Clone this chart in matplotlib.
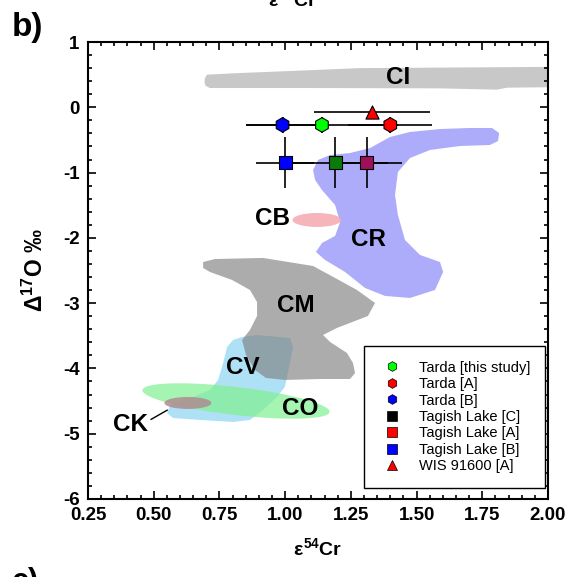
import numpy as np
import matplotlib
matplotlib.use('Agg')
import matplotlib.pyplot as plt
from matplotlib.patches import Polygon, Ellipse
from matplotlib.lines import Line2D
from matplotlib.ticker import MultipleLocator

plt.rcParams['font.family'] = ['Liberation Sans', 'DejaVu Sans']
plt.rcParams['axes.unicode_minus'] = False
plt.rcParams['mathtext.fontset'] = 'custom'
plt.rcParams['mathtext.rm'] = 'Liberation Sans:bold'
plt.rcParams['mathtext.it'] = 'Liberation Sans:bold'
plt.rcParams['mathtext.bf'] = 'Liberation Sans:bold'

# chondrite group fields (eps54Cr, D17O)
ci_field = [(0.695, 0.45), (0.703, 0.50), (0.80, 0.52), (1.106, 0.57), (1.285, 0.60), (2.05, 0.62),
            (2.05, 0.31), (1.844, 0.30), (1.806, 0.27), (1.589, 0.29), (1.106, 0.295), (0.714, 0.295),
            (0.697, 0.33), (0.693, 0.39)]
cr_field = [(1.106, -0.96), (1.125, -0.807), (1.171, -0.731), (1.247, -0.70), (1.323, -0.624),
            (1.399, -0.455), (1.475, -0.378), (1.589, -0.333), (1.703, -0.317), (1.787, -0.317),
            (1.814, -0.394), (1.810, -0.516), (1.779, -0.578), (1.665, -0.593), (1.551, -0.654),
            (1.475, -0.777), (1.429, -0.991), (1.418, -1.343), (1.429, -1.65), (1.456, -2.033),
            (1.513, -2.262), (1.589, -2.37), (1.601, -2.523), (1.570, -2.798), (1.475, -2.921),
            (1.380, -2.89), (1.304, -2.768), (1.228, -2.523), (1.152, -2.339), (1.117, -2.216),
            (1.140, -2.079), (1.190, -1.971), (1.209, -1.757), (1.190, -1.497), (1.140, -1.267),
            (1.114, -1.114)]
cm_field = [(0.688, -2.370), (0.733, -2.324), (0.916, -2.308), (1.106, -2.431), (1.197, -2.630),
            (1.273, -2.798), (1.342, -2.998), (1.315, -3.197), (1.197, -3.380), (1.144, -3.488),
            (1.171, -3.595), (1.235, -3.763), (1.258, -3.917), (1.266, -4.070), (1.247, -4.162),
            (1.133, -4.162), (0.999, -4.177), (0.927, -4.146), (0.885, -4.024), (0.851, -3.794),
            (0.836, -3.564), (0.866, -3.411), (0.893, -3.197), (0.893, -2.982), (0.866, -2.798),
            (0.798, -2.645), (0.714, -2.523), (0.688, -2.461)]
cv_field = [(0.836, -3.518), (0.893, -3.488), (1.018, -3.534), (1.030, -3.671), (1.018, -3.917),
            (0.999, -4.284), (0.969, -4.437), (0.916, -4.636), (0.866, -4.790), (0.802, -4.820),
            (0.676, -4.790), (0.573, -4.759), (0.551, -4.682), (0.562, -4.560), (0.649, -4.437),
            (0.714, -4.330), (0.745, -4.177), (0.764, -3.917), (0.779, -3.671), (0.802, -3.564)]
# ellipses: center, semi-axis vectors
co_center = (0.813, -4.499)
co_u = (0.356, -0.168)
co_v = (-0.006, -0.213)
cb_center, cb_size = (1.121, -1.726), (0.186, 0.214)
ck_center, ck_size = (0.630, -4.529), (0.179, 0.184)

# samples
tarda_x = [1.14, 1.40, 0.99]
tarda_y = [-0.27, -0.27, -0.27]
tarda_xerr = [0.29, 0.16, 0.14]
tarda_yerr = [0.12, 0.12, 0.12]
tarda_colors = ['#00ff00', '#ff0000', '#0000ff']

tagish_x = [1.19, 1.31, 1.00]
tagish_y = [-0.85, -0.85, -0.85]
tagish_xerr = [0.20, 0.135, 0.11]
tagish_yerr = [0.39, 0.39, 0.39]
tagish_colors = ['#0a7a0a', '#a0105a', '#0000ff']

wis_x, wis_y, wis_xerr = 1.33, -0.07, 0.22

legend_labels = ['Tarda [this study]', 'Tarda [A]', 'Tarda [B]', 'Tagish Lake [C]',
                 'Tagish Lake [A]', 'Tagish Lake [B]', 'WIS 91600 [A]']
legend_markers = ['h', 'h', 'h', 's', 's', 's', '^']
legend_colors = ['#00ff00', '#ff0000', '#0000ff', '#000000', '#ff0000', '#0000ff', '#ff0000']


def main():
    fig = plt.figure(figsize=(5.69, 5.77), dpi=100)
    ax = fig.add_axes([0.1547, 0.1352, 0.8084, 0.792])

    # fields
    ax.add_patch(Polygon(ci_field, closed=True, fc='#c8c8c8', ec='none', zorder=1))
    ax.add_patch(Polygon(cv_field, closed=True, fc='#a6def5', ec='none', alpha=0.9, zorder=1))
    ax.add_patch(Polygon(cm_field, closed=True, fc='#808080', ec='none', alpha=0.65, zorder=2))
    ax.add_patch(Polygon(cr_field, closed=True, fc='#a8a8fa', ec='none', alpha=0.95, zorder=2))
    t = np.linspace(0, 2 * np.pi, 100)
    co_pts = np.column_stack([co_center[0] + co_u[0] * np.cos(t) + co_v[0] * np.sin(t),
                              co_center[1] + co_u[1] * np.cos(t) + co_v[1] * np.sin(t)])
    ax.add_patch(Polygon(co_pts, closed=True, fc='#80f090', ec='none', alpha=0.7, zorder=3))
    ax.add_patch(Ellipse(cb_center, cb_size[0], cb_size[1], fc='#f4a8b0', ec='none', alpha=0.85, zorder=3))
    ax.add_patch(Ellipse(ck_center, ck_size[0], ck_size[1], fc='#b08c90', ec='none', alpha=0.85, zorder=4))

    lab = dict(fontsize=17.5, fontweight='bold', ha='center', va='center', zorder=6)
    ax.text(1.43, 0.45, 'CI', **lab)
    ax.text(1.315, -2.02, 'CR', **lab)
    ax.text(0.95, -1.71, 'CB', **lab)
    ax.text(1.041, -3.04, 'CM', **lab)
    ax.text(0.84, -3.99, 'CV', **lab)
    ax.text(1.057, -4.62, 'CO', **lab)
    ax.text(0.41, -4.866, 'CK', **lab)
    ax.plot([0.49, 0.551], [-4.78, -4.64], color='black', lw=1, zorder=6)

    # samples
    eb = dict(fmt='none', ecolor='black', elinewidth=1.2, capsize=0, zorder=7)
    ax.errorbar(wis_x, wis_y, xerr=wis_xerr, **eb)
    ax.errorbar(tarda_x, tarda_y, xerr=tarda_xerr, yerr=tarda_yerr, **eb)
    ax.errorbar(tagish_x, tagish_y, xerr=tagish_xerr, yerr=tagish_yerr, **eb)
    ax.scatter(tarda_x, tarda_y, marker='h', s=110, c=tarda_colors, edgecolors='black', linewidths=0.8, zorder=8)
    ax.scatter(tagish_x, tagish_y, marker='s', s=85, c=tagish_colors, edgecolors='black', linewidths=0.8, zorder=8)
    ax.scatter([wis_x], [wis_y], marker='^', s=90, c='#ff0000', edgecolors='black', linewidths=0.8, zorder=8)

    handles = [Line2D([], [], ls='none', marker=m, color=c, markeredgecolor='black',
                      markeredgewidth=0.5, markersize=7)
               for m, c in zip(legend_markers, legend_colors)]
    leg = ax.legend(handles, legend_labels, loc='lower right', fontsize=10.5, frameon=True,
                    fancybox=False, edgecolor='black', framealpha=1, handletextpad=0.9,
                    labelspacing=0.17, borderpad=1.0, handlelength=1.9, borderaxespad=0,
                    bbox_to_anchor=(0.9935, 0.024))
    leg.get_frame().set_linewidth(1.0)
    leg.set_zorder(10)

    ax.set_xlim(0.25, 2.0)
    ax.set_ylim(-6, 1)
    ax.xaxis.set_major_locator(MultipleLocator(0.25))
    ax.xaxis.set_minor_locator(MultipleLocator(0.05))
    ax.yaxis.set_major_locator(MultipleLocator(1))
    ax.yaxis.set_minor_locator(MultipleLocator(0.2))
    ax.tick_params(which='both', direction='in', top=True, right=True, width=1.2)
    ax.tick_params(which='major', length=6, labelsize=13.5, pad=6)
    ax.tick_params(which='minor', length=3)
    ax.set_xticks(ax.get_xticks())
    ax.set_xticklabels(['%.2f' % v for v in ax.get_xticks()])
    for lbl in ax.get_xticklabels() + ax.get_yticklabels():
        lbl.set_fontweight('bold')
    for s in ax.spines.values():
        s.set_linewidth(1.5)
    ax.set_xlim(0.25, 2.0)

    ax.set_xlabel(r'$\varepsilon^{54}$Cr', fontsize=14, fontweight='bold')
    ax.set_ylabel(r'$\Delta^{17}$O ‰', fontsize=16.5, fontweight='bold')
    ax.xaxis.set_label_coords(0.5, -0.083)
    ax.yaxis.set_label_coords(-0.088, 0.5)

    fig.text(0.049, 0.952, 'b)', fontsize=24, fontweight='bold', ha='center', va='center')
    fig.text(0.515, 1.002, r'$\varepsilon^{54}$Cr', fontsize=14, fontweight='bold', ha='center', va='center')
    fig.text(0.045, -0.008, 'c)', fontsize=22, fontweight='bold', ha='center', va='center')

    fig.savefig('out.png', dpi=100)
    plt.close(fig)


if __name__ == '__main__':
    main()
